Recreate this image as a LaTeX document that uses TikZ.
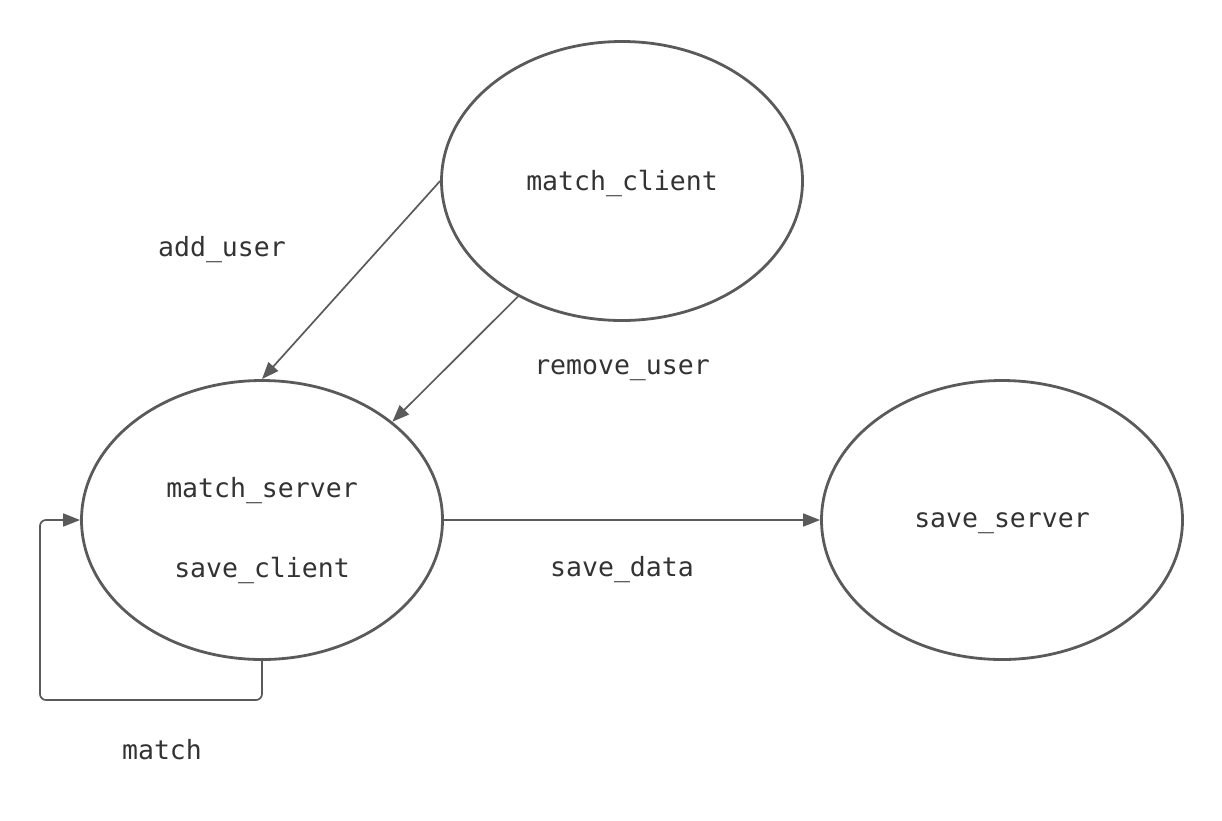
\documentclass[tikz,border=0pt]{standalone}
\usepackage{fontspec}
\setmonofont{DejaVu Sans Mono}
\usetikzlibrary{arrows.meta,shapes.geometric}
\definecolor{linec}{HTML}{5A5A5A}
\definecolor{textc}{HTML}{333333}
\begin{document}
\begin{tikzpicture}[x=1pt,y=-1pt,
  proc/.style={draw=linec,line width=2.8pt,ellipse,minimum width=361pt,minimum height=279pt,inner sep=0pt},
  conn/.style={draw=linec,line width=1.7pt,-{Triangle[length=17pt,width=13pt]}},
  lbl/.style={text=textc,font=\ttfamily\fontsize{26.5}{30}\selectfont,inner sep=0pt}]
\useasboundingbox (0,0) rectangle (1222,820);
\node[proc] (mc) at (622,181) {};
\node[proc] (ms) at (262,520) {};
\node[proc] (ss) at (1002,520) {};
\node[lbl] (tmc) at (622,183) {match\_client};
\node[lbl] (tms) at (262,491) {match\_server};
\node[lbl] (tsc) at (262,570) {save\_client};
\node[lbl] (tss) at (1002,523) {save\_server};
\node[lbl] (ladd) at (222,250) {add\_user};
\node[lbl] (lrem) at (622,370) {remove\_user};
\node[lbl] (lsave) at (622,570) {save\_data};
\node[lbl] (lmatch) at (162,750) {match};
\draw[conn] (mc.west) -- (ms.north);
\draw[conn] (mc.-132.4) -- (ms.37.6);
\draw[conn] (ms.east) -- (ss.west);
\coordinate (c1) at (262,700);
\coordinate (c2) at (40,700);
\coordinate (c3) at (40,520);
\draw[conn,rounded corners=6pt] (ms.south) -- (c1) -- (c2) -- (c3) -- (ms.west);
\end{tikzpicture}
\end{document}
